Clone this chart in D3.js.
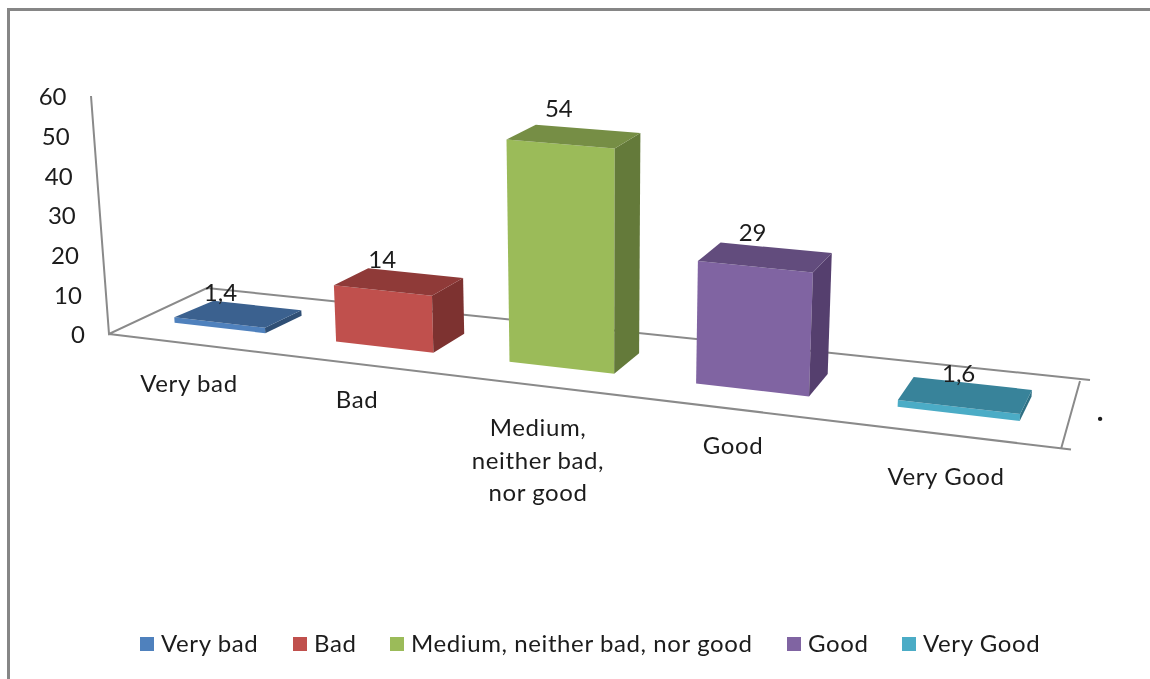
<!DOCTYPE html>
<html>
<head>
<meta charset="utf-8">
<script src="https://d3js.org/d3.v7.min.js"></script>
<style>
html,body{margin:0;padding:0;background:#fff;overflow:hidden}
svg{filter:blur(.35px)}
text{font-family:Lato,"Open Sans",sans-serif;fill:#1c1c1c;font-size:24px}
.wide{letter-spacing:.6px}
</style>
</head>
<body>
<svg id="c" width="1150" height="679"></svg>
<script>
const categories = ["Very bad","Bad","Medium, neither bad, nor good","Good","Very Good"];
const values = [1.4,14,54,29,1.6];
const valueLabels = ["1,4","14","54","29","1,6"];
const yTicks = [0,10,20,30,40,50,60];
const categoryLines = [["Very bad"],["Bad"],["Medium,","neither bad,","nor good"],["Good"],["Very Good"]];
const frontColors = ["#4F81BD","#C0504D","#9BBB59","#8064A2","#4BACC6"];
const topColors = ["#3B618F","#8F3A38","#768E45","#624C7D","#38839A"];
const sideColors = ["#2F4F75","#7D3230","#647A3A","#553F6E","#2F7084"];

const svg = d3.select("#c");
const floor = {f0:[109,334],f1:[1061,449],b0:[207,288],b1:[1080,381]};
const yScale = d3.scaleLinear().domain([0,60]).range([238,0]);
const unitH = v => 238 - yScale(v);
const band = d3.scaleBand().domain(categories).range([0,1]).paddingInner(.43).paddingOuter(.215);
const warp = u => u*.83/(1-.17*u);
const depth = d3.scaleLinear().domain([0,1]).range([.33,.71]);
const growth = d3.scaleLinear().domain([334,449]).range([1.005,1.14]);
function P(u,v){
  const w = warp(u);
  const fx=floor.f0[0]+(floor.f1[0]-floor.f0[0])*w, fy=floor.f0[1]+(floor.f1[1]-floor.f0[1])*w;
  const bx=floor.b0[0]+(floor.b1[0]-floor.b0[0])*w, by=floor.b0[1]+(floor.b1[1]-floor.b0[1])*w;
  return [fx+(bx-fx)*v+8*(v-.33), fy+(by-fy)*v+3*(v-.33)];
}
function up(p,val){
  const h = unitH(val)*growth(p[1]);
  return [p[0]+(p[0]-600)*h*1.5e-4, p[1]-h];
}
const poly = pts => "M"+pts.map(p=>p[0].toFixed(1)+","+p[1].toFixed(1)).join("L")+"Z";

// frame
svg.append("path").attr("d","M8.5,679V9.5H1150").attr("fill","none").attr("stroke","#868686").attr("stroke-width",3);

// floor
const lineC="#8a8a8a";
svg.append("path").attr("fill","none").attr("stroke",lineC).attr("stroke-width",2)
  .attr("d",`M91,96L109,334L207,288L1090,380M1080,381L1061,449M109,334L1071,449.5`);

// value axis
const axisScale = d3.scaleLinear().domain([0,60]).range([335,97]);
const axisG = svg.append("g").call(d3.axisLeft(axisScale).tickValues(yTicks).tickSize(0).tickPadding(0));
axisG.select(".domain").remove();
axisG.selectAll(".tick").attr("transform",d=>{
  const t=d/60; return `translate(${109-18.5*t-24},${axisScale(d)})`;
});
axisG.selectAll("text").attr("x",0).attr("dy","0.34em").attr("text-anchor","end").style("font-size","24px").style("font-family","Lato");

// bars
const bars = svg.append("g").selectAll("g").data(categories).join("g");
bars.each(function(c,i){
  const g=d3.select(this), v=values[i];
  const u0=band(c), u1=u0+band.bandwidth();
  const v0=depth(0), v1=depth(1);
  const a=P(u0,v0), b=P(u1,v0), d=P(u1,v1), e=P(u0,v1);
  const A=up(a,v),B=up(b,v),D=up(d,v),E=up(e,v);
  g.append("path").attr("d",poly([a,b,B,A])).attr("fill",frontColors[i]);
  g.append("path").attr("d",poly([b,d,D,B])).attr("fill",sideColors[i]);
  g.append("path").attr("d",poly([A,B,D,E])).attr("fill",topColors[i]);
});

// value labels
const labelDx=[7,14,23,32,45], labelDy=[-8,-8,-16,-10,-3];
svg.append("g").selectAll("text").data(categories).join("text")
  .attr("text-anchor","middle").attr("dy","0.34em")
  .attr("x",(c,i)=>up(P(band(c),depth(1)),values[i])[0]+labelDx[i])
  .attr("y",(c,i)=>up(P(band(c),depth(1)),values[i])[1]+labelDy[i])
  .text((c,i)=>valueLabels[i]);

// category labels
const catPos=[[189,384],[357,400],[538,428],[733,446],[946,477]];
const catG=svg.append("g");
categoryLines.forEach((ls,i)=>ls.forEach((l,j)=>{
  catG.append("text").attr("class","wide").attr("x",catPos[i][0]).attr("y",catPos[i][1]+j*32.5).attr("dy","0.34em").attr("text-anchor","middle").text(l);
}));

// legend
const legendX=[140,293,390,787,902];
const lg=svg.append("g").selectAll("g").data(categories).join("g").attr("transform",(c,i)=>`translate(${legendX[i]},637)`);
lg.append("rect").attr("width",14).attr("height",14).attr("fill",(c,i)=>frontColors[i]);
lg.append("text").attr("class","wide").attr("x",21).attr("y",6.5).attr("dy","0.34em").text(c=>c);

svg.append("text").attr("x",1100).attr("y",412).attr("text-anchor","middle").attr("dy","0.34em").style("font-size","26px").style("font-weight","900").text(".");
</script>
</body>
</html>
